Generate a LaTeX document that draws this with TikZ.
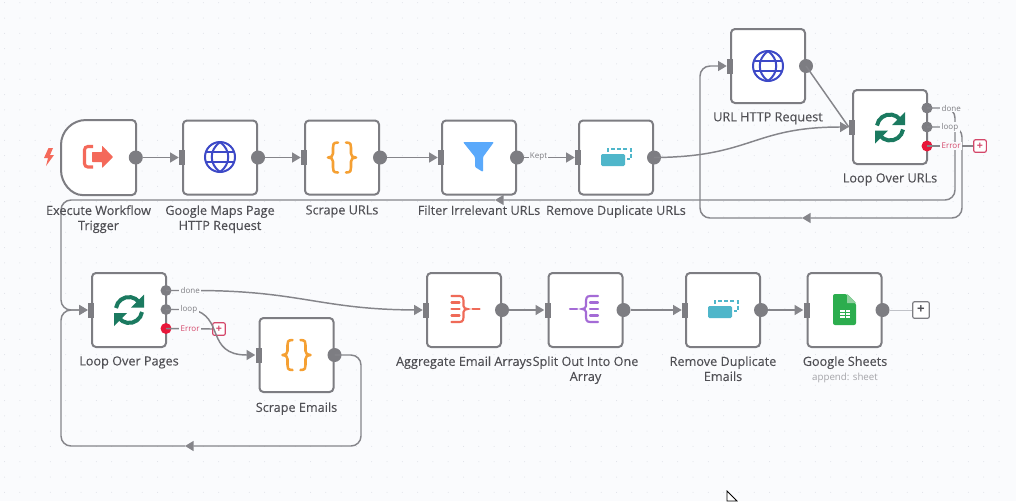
\documentclass[tikz,border=0pt]{standalone}
\usepackage{fontspec}
\setmainfont{Open Sans}
\usetikzlibrary{arrows.meta}
\definecolor{bgc}{HTML}{FAFBFD}
\definecolor{griddot}{HTML}{DDE0E6}
\definecolor{wire}{HTML}{85858A}
\definecolor{boxc}{HTML}{7D7D82}
\definecolor{txt}{HTML}{505055}
\definecolor{errc}{HTML}{E8173A}
\definecolor{errt}{HTML}{D4476A}
\definecolor{exitc}{HTML}{F4695A}
\definecolor{globec}{HTML}{3D49C7}
\definecolor{bracec}{HTML}{F5A033}
\definecolor{filterc}{HTML}{5AA9FB}
\definecolor{dedupc}{HTML}{4FB6CA}
\definecolor{loopc}{HTML}{1B7A60}
\definecolor{aggc}{HTML}{EF6A58}
\definecolor{splitc}{HTML}{A46BD6}
\definecolor{sheetc}{HTML}{2CAD4E}
\definecolor{foldc}{HTML}{8FD19E}
\tikzset{
  x=0.75pt, y=-0.75pt,
  box/.style={draw=boxc,line width=1.5pt,fill=white,rounded corners=3pt,minimum size=55.5pt,inner sep=0pt},
  ghostbox/.style={minimum size=55.5pt,inner sep=0pt},
  portbar/.style={fill=boxc,minimum width=4.5pt,minimum height=11.25pt,inner sep=0pt},
  outdot/.style={circle,fill=boxc,minimum size=10.5pt,inner sep=0pt},
  smalldot/.style={circle,fill=boxc,minimum size=8.25pt,inner sep=0pt},
  errdot/.style={circle,fill=errc,minimum size=8.25pt,inner sep=0pt},
  conn/.style={draw=wire,line width=1.1pt},
  endtip/.style={-{Triangle[length=6.5pt,width=7.5pt]}},
  wirebend/.style={rounded corners=7.5pt},
  lbl/.style={font=\fontsize{9.5}{11.3}\selectfont\addfontfeature{FakeBold=0.15},text=txt,align=center,anchor=north,inner sep=0pt},
  sublbl/.style={font=\fontsize{7.3}{8}\selectfont,text=boxc!70!white,align=center,anchor=north,inner sep=0pt},
  portlbl/.style={font=\fontsize{6}{7}\selectfont,text=boxc,fill=bgc,inner sep=1pt,anchor=west},
  errlbl/.style={font=\fontsize{6}{7}\selectfont,text=errt,fill=bgc,inner sep=1pt,anchor=west},
  addred/.style={draw=errt,line width=0.9pt,fill=white,rounded corners=1.5pt,minimum size=9.5pt,inner sep=0pt,text=errt,font=\fontsize{8}{8}\bfseries\selectfont},
  addgray/.style={draw=boxc,line width=0.9pt,fill=white,rounded corners=1.5pt,minimum size=12.5pt,inner sep=0pt,text=txt,font=\fontsize{10}{10}\bfseries\selectfont},
  globeicon/.pic={
    \begin{scope}[draw=globec,line width=1.5pt]
      \draw (0,0) circle[radius=15];
      \draw (0,-15) .. controls (-11,-7) and (-11,7) .. (0,15);
      \draw (0,-15) .. controls (11,-7) and (11,7) .. (0,15);
      \draw (-14,-5) -- (14,-5);
      \draw (-14,5) -- (14,5);
    \end{scope}
  },
  braceicon/.pic={
    \begin{scope}[draw=bracec,line width=1.9pt,line cap=round,line join=round]
      \draw (-4,-15) .. controls (-9,-15) and (-9,-13) .. (-9,-10) -- (-9,-4) .. controls (-9,-1) and (-11,0) .. (-14,0) .. controls (-11,0) and (-9,1) .. (-9,4) -- (-9,10) .. controls (-9,13) and (-9,15) .. (-4,15);
      \draw (4,-15) .. controls (9,-15) and (9,-13) .. (9,-10) -- (9,-4) .. controls (9,-1) and (11,0) .. (14,0) .. controls (11,0) and (9,1) .. (9,4) -- (9,10) .. controls (9,13) and (9,15) .. (4,15);
    \end{scope}
  },
  dedupicon/.pic={
    \fill[dedupc,rounded corners=1pt] (-15,-3) rectangle (9,9);
    \draw[dedupc,line width=1.6pt,dash pattern=on 3pt off 1.6pt] (-8,-5) -- (-8,-8) -- (15,-8) -- (15,2) -- (11,2);
  },
  loopicon/.pic={
    \draw[loopc,line width=3pt] (-13,-2) arc (189:321:13);
    \fill[loopc] (15,-15.5) -- (15,-2.5) -- (2,-2.5) -- cycle;
    \draw[loopc,line width=3pt] (13,2) arc (9:141:13);
    \fill[loopc] (-15,16) -- (-15,3) -- (-2,3) -- cycle;
  },
  rakeicon/.pic={
    \begin{scope}[line width=1.6pt,line cap=round]
      \draw (-13,-13) -- (-5,-13) .. controls (-1,-13) and (-1,-10) .. (-1,-6) -- (-1,-3) .. controls (-1,-1) and (1,0) .. (3,0) .. controls (1,0) and (-1,1) .. (-1,3) -- (-1,6) .. controls (-1,10) and (-1,13) .. (-5,13) -- (-13,13);
      \draw (-13,-6.5) -- (-5,-6.5);
      \draw (-13,0) -- (-5,0);
      \draw (-13,6.5) -- (-5,6.5);
      \draw (8,0) -- (15,0);
    \end{scope}
  },
}
\begin{document}
\begin{tikzpicture}
\useasboundingbox (0,0) rectangle (1016,501);
\fill[bgc] (0,0) rectangle (1016,501);
\foreach \gi in {0,...,65}{
  \foreach \gj in {0,...,32}{
    \fill[griddot] ({4.5+15.3*\gi},{2.7+15.3*\gj}) circle[radius=0.5];
  }
}
% boxes
\node[ghostbox] (exec) at (98.5,157.5) {};
\node[box] (gmaps) at (220,157.5) {};
\node[box] (surls) at (342,157.5) {};
\node[box] (filter) at (479,157.5) {};
\node[box] (rdupu) at (616,157.5) {};
\node[box] (urlreq) at (768,66) {};
\node[box] (loopu) at (890,127) {};
\node[box] (loopp) at (129,310) {};
\node[box] (semail) at (296.5,355) {};
\node[box] (agg) at (464,310) {};
\node[box] (split) at (585.5,310) {};
\node[box] (rdupe) at (723,310) {};
\node[box] (sheets) at (844.5,310) {};
\draw[draw=boxc,line width=1.5pt,fill=white]
  (86,120) [rounded corners=3pt] -- (136,120) -- (136,195) -- (86,195) [sharp corners]
  arc (90:180:25) -- (61,145) arc (180:270:25) -- cycle;
% ports
\foreach \n in {gmaps,surls,filter,rdupu,urlreq,loopu,loopp,semail,agg,split,rdupe,sheets}{
  \node[portbar] (\n In) at (\n.west) {};
}
\foreach \n in {exec,gmaps,surls,filter,rdupu,urlreq,semail,agg,split,rdupe,sheets}{
  \node[outdot] (\n Out) at (\n.east) {};
}
\node[smalldot] (loopuDone) at (927,108) {};
\node[smalldot] (loopuLoop) at (927,127) {};
\node[errdot] (loopuErr) at (927,146) {};
\node[smalldot] (looppDone) at (166,290.5) {};
\node[smalldot] (looppLoop) at (166,309.5) {};
\node[errdot] (looppErr) at (166,328.5) {};
\node[addred] (addu) at (980,146) {+};
\node[addred] (addp) at (219,329) {+};
\node[addgray] (adds) at (921,310) {+};
% way points
\coordinate (ua) at (955,108);
\coordinate (ub) at (955,200);
\coordinate (uc) at (495,200);
\coordinate (ud) at (61,200);
\coordinate (ue) at (61,310);
\coordinate (va) at (962,127);
\coordinate (vb) at (962,218);
\coordinate (vc) at (802,218);
\coordinate (vd) at (700,218);
\coordinate (ve) at (700,66);
\coordinate (wa) at (361,355);
\coordinate (wb) at (361,446);
\coordinate (wc) at (185,446);
\coordinate (wd) at (61,446);
\coordinate (we) at (61,310);
% connectors
\draw[conn,endtip] (execOut) -- (gmapsIn);
\draw[conn,endtip] (gmapsOut) -- (surlsIn);
\draw[conn,endtip] (surlsOut) -- (filterIn);
\draw[conn,endtip] (filterOut) -- (rdupuIn);
\draw[conn,endtip] (rdupuOut.center) .. controls (752,157) and (752,127) .. (loopuIn.west);
\draw[conn] (urlreqOut.center) -- (loopuIn.west);
\draw[conn,endtip,wirebend] (loopuDone.center) -- (ua) -- (ub) -- (uc);
\draw[conn,endtip,wirebend] (uc) -- (ud) -- (ue) -- (looppIn.west);
\draw[conn,endtip,wirebend] (loopuLoop.center) -- (va) -- (vb) -- (vc);
\draw[conn,endtip,wirebend] (vc) -- (vd) -- (ve) -- (urlreqIn.west);
\draw[conn] (loopuErr.center) -- (addu.west);
\draw[conn,endtip] (looppDone.center) -- (195,290.5) .. controls (300,290.5) and (320,309.5) .. (aggIn.west);
\draw[conn,endtip] (looppLoop.center) -- (192,309.5) .. controls (225,316) and (205,355) .. (semailIn.west);
\draw[conn] (looppErr.center) -- (addp.west);
\draw[conn,endtip,wirebend] (semailOut.center) -- (wa) -- (wb) -- (wc);
\draw[conn,endtip,wirebend] (wc) -- (wd) -- (we) -- (looppIn.west);
\draw[conn,endtip] (aggOut) -- (splitIn);
\draw[conn,endtip] (splitOut) -- (rdupeIn);
\draw[conn,endtip] (rdupeOut) -- (sheetsIn);
\draw[draw=griddot!70!boxc,line width=0.7pt] (sheetsOut) -- (adds.west);
% icons
\fill[exitc] (48.5,148) -- (44,158) -- (48,158) -- (46,166) -- (54,155) -- (50,155) -- (53,148) -- cycle;
\draw[exitc,line width=2.3pt,rounded corners=2.5pt] (93,146.5) -- (84.5,146.5) -- (84.5,167) -- (93,167);
\fill[exitc,rounded corners=0.5pt] (92,152) -- (102,152) -- (102,145.5) -- (113,157) -- (102,168) -- (102,162) -- (92,162) -- cycle;
\pic at (220,157) {globeicon};
\pic at (342,157.5) {braceicon};
\fill[filterc,rounded corners=0.8pt] (463,142) -- (494,142) -- (483,157) -- (483,172) -- (475,167) -- (475,157) -- cycle;
\pic at (616,157) {dedupicon};
\pic at (768,66) {globeicon};
\pic at (890,127.5) {loopicon};
\pic at (129,310) {loopicon};
\pic at (296.5,355) {braceicon};
\pic[aggc,draw=aggc] at (464.5,309) {rakeicon};
\pic[splitc,draw=splitc,xscale=-1] at (585,309) {rakeicon};
\pic at (723,309) {dedupicon};
\fill[sheetc,rounded corners=1.5pt] (833,294) -- (847,294) -- (856,303) -- (856,325) -- (833,325) -- cycle;
\fill[foldc] (847,294) -- (856,303) -- (847,303) -- cycle;
\fill[white] (840,310) rectangle (850,318);
\draw[sheetc,line width=0.5pt] (840,312.7) -- (850,312.7) (840,315.4) -- (850,315.4) (845,310) -- (845,318);
% labels
\node[lbl] (tExec) at (98.5,205) {Execute Workflow\\Trigger};
\node[lbl] (tGmaps) at (220,205) {Google Maps Page\\HTTP Request};
\node[lbl] (tSurls) at (342,205) {Scrape URLs};
\node[lbl] (tFilter) at (479,205) {Filter Irrelevant URLs};
\node[lbl] (tRdupu) at (616,205) {Remove Duplicate URLs};
\node[lbl] (tUrl) at (768,112) {URL HTTP Request};
\node[lbl] (tLoopu) at (890,173) {Loop Over URLs};
\node[lbl] (tLoopp) at (129,356) {Loop Over Pages};
\node[lbl] (tSemail) at (296.5,402) {Scrape Emails};
\node[lbl] (tAgg) at (464,356) {Aggregate Email Arrays};
\node[lbl] (tSplit) at (585.5,356) {Split Out Into One\\Array};
\node[lbl] (tRdupe) at (723,356) {Remove Duplicate\\Emails};
\node[lbl] (tSheets) at (845,356) {Google Sheets};
\node[sublbl] (tSheetsSub) at (845,373) {append: sheet};
\node[portlbl,anchor=center] (kept) at (538.5,157) {Kept};
\node[portlbl] (tud) at (940,108) {done};
\node[portlbl] (tul) at (940,127) {loop};
\node[errlbl] (tue) at (940,146) {Error};
\node[portlbl] (tpd) at (179,290.5) {done};
\node[portlbl] (tpl) at (179,309.5) {loop};
\node[errlbl] (tpe) at (179,328.5) {Error};
% pointer
\draw[black,fill=white,line width=0.6pt] (727,491) -- (727,501) -- (737,501) -- cycle;
\end{tikzpicture}
\end{document}
